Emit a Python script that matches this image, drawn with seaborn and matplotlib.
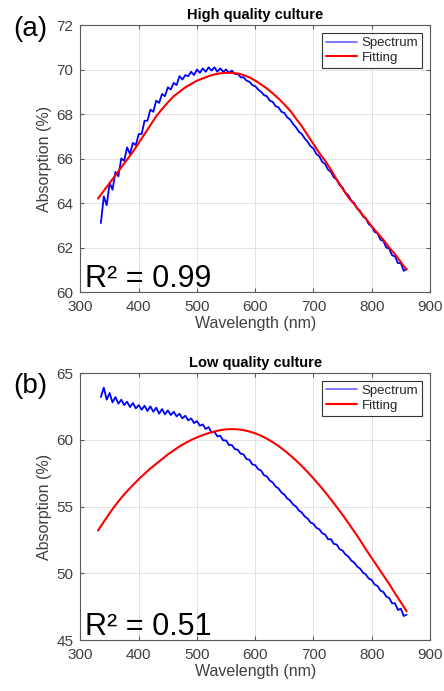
import numpy as np
import pandas as pd
import matplotlib
matplotlib.use("Agg")
import matplotlib.pyplot as plt
import seaborn as sns

# sample grids (nm)
wl_spec = np.arange(335, 861, 5)
wl_fit = np.arange(330, 861, 10)

# (a) high quality culture, absorption in %
high_spec = [
    63.1, 64.3, 63.9, 64.9, 64.6, 65.4, 65.2, 66.0, 65.9, 66.5,
    66.2, 66.7, 66.6, 67.1, 67.1, 67.7, 67.7, 68.2, 68.1, 68.6,
    68.5, 68.9, 68.8, 69.2, 69.1, 69.4, 69.3, 69.7, 69.55, 69.75,
    69.7, 69.9, 69.75, 70.0, 69.85, 70.05, 69.9, 70.1, 69.95, 70.1,
    69.9, 70.05, 69.9, 70.0, 69.85, 69.95, 69.8, 69.8, 69.65, 69.65,
    69.5, 69.45, 69.3, 69.25, 69.1, 69.0, 68.85, 68.8, 68.6, 68.55,
    68.35, 68.3, 68.1, 68.05, 67.85, 67.75, 67.55, 67.4, 67.2, 67.1,
    66.9, 66.75, 66.55, 66.45, 66.2, 66.1, 65.85, 65.75, 65.5, 65.4,
    65.15, 65.05, 64.8, 64.7, 64.45, 64.35, 64.1, 64.0, 63.75, 63.65,
    63.4, 63.3, 63.05, 62.95, 62.7, 62.65, 62.35, 62.3, 62.0, 61.95,
    61.65, 61.6, 61.3, 61.3, 60.95, 61.05,
]
high_fit = [
    64.2, 64.55, 64.9, 65.25, 65.6, 65.95, 66.3, 66.7, 67.1, 67.5,
    67.9, 68.22, 68.52, 68.8, 69.0, 69.2, 69.35, 69.5, 69.6, 69.7,
    69.78, 69.83, 69.85, 69.85, 69.82, 69.75, 69.65, 69.5, 69.33, 69.15,
    68.93, 68.7, 68.43, 68.15, 67.8, 67.45, 67.05, 66.65, 66.25, 65.9,
    65.5, 65.05, 64.65, 64.25, 63.95, 63.6, 63.3, 62.95, 62.65, 62.35,
    62.0, 61.7, 61.35, 61.0,
]

# (b) low quality culture
low_spec = [
    63.2, 63.9, 63.0, 63.5, 62.8, 63.2, 62.7, 63.0, 62.6, 62.85,
    62.45, 62.75, 62.35, 62.6, 62.25, 62.55, 62.15, 62.5, 62.1, 62.4,
    61.95, 62.3, 61.9, 62.2, 61.85, 62.1, 61.75, 61.95, 61.6, 61.8,
    61.45, 61.6, 61.25, 61.4, 61.05, 61.15, 60.8, 60.95, 60.55, 60.6,
    60.25, 60.3, 59.95, 59.95, 59.6, 59.6, 59.3, 59.25, 58.95, 58.9,
    58.55, 58.5, 58.15, 58.1, 57.8, 57.7, 57.35, 57.25, 56.95, 56.8,
    56.5, 56.35, 56.05, 55.9, 55.6, 55.45, 55.15, 55.0, 54.7, 54.55,
    54.25, 54.1, 53.8, 53.7, 53.4, 53.3, 53.0, 52.9, 52.55, 52.55,
    52.2, 52.15, 51.8, 51.7, 51.4, 51.25, 50.95, 50.8, 50.5, 50.35,
    50.05, 49.9, 49.6, 49.5, 49.15, 49.05, 48.7, 48.6, 48.25, 48.15,
    47.75, 47.75, 47.25, 47.35, 46.8, 46.9,
]
low_fit = [
    53.2, 53.85, 54.5, 55.1, 55.65, 56.15, 56.6, 57.05, 57.45, 57.85,
    58.2, 58.55, 58.9, 59.2, 59.5, 59.75, 59.98, 60.18, 60.35, 60.5,
    60.62, 60.72, 60.78, 60.8, 60.78, 60.72, 60.62, 60.48, 60.3, 60.08,
    59.82, 59.53, 59.2, 58.84, 58.45, 58.03, 57.58, 57.1, 56.6, 56.08,
    55.53, 54.96, 54.37, 53.76, 53.13, 52.48, 51.8, 51.14, 50.5, 49.85,
    49.2, 48.5, 47.83, 47.15,
]

panels = [
    ("(a)", "High quality culture", high_spec, high_fit, (60, 72), np.arange(60, 73, 2), "R² = 0.99"),
    ("(b)", "Low quality culture", low_spec, low_fit, (45, 65), np.arange(45, 66, 5), "R² = 0.51"),
]

sns.set_theme(style="whitegrid")
plt.rcParams["font.family"] = ["Liberation Sans", "DejaVu Sans"]
plt.rcParams["axes.edgecolor"] = "#5a5a5a"
plt.rcParams["axes.linewidth"] = 0.8
plt.rcParams["grid.color"] = "#e2e2e2"
plt.rcParams["grid.linewidth"] = 0.7

fig = plt.figure(figsize=(4.44, 6.91), dpi=100)
boxes = [[0.1813, 0.5774, 0.787, 0.3864], [0.1813, 0.0738, 0.787, 0.3864]]
tag_y = [1 - 29 / 691, 1 - 386 / 691]

for (tag, title, spec, fit, ylim, yticks, r2), box, ty in zip(panels, boxes, tag_y):
    ax = fig.add_axes(box)
    df_s = pd.DataFrame({"wavelength": wl_spec, "absorption": spec})
    df_f = pd.DataFrame({"wavelength": wl_fit, "absorption": fit})

    sns.lineplot(data=df_s, x="wavelength", y="absorption", color="#0000ff",
                 lw=1.3, label="Spectrum", ax=ax)
    sns.lineplot(data=df_f, x="wavelength", y="absorption", color="#ff0000",
                 lw=1.5, label="Fitting", ax=ax)

    ax.set_xlim(300, 900)
    ax.set_ylim(*ylim)
    ax.set_xticks(np.arange(300, 901, 100))
    ax.set_yticks(yticks)
    ax.tick_params(direction="in", length=3, width=0.8, colors="#5a5a5a",
                   labelcolor="#404040", labelsize=11, top=True, right=True,
                   left=True, bottom=True)
    ax.tick_params(axis="x", pad=6)
    ax.tick_params(axis="y", pad=5)
    ax.set_xlabel("Wavelength (nm)", fontsize=11.5, color="#404040", labelpad=1)
    ax.set_ylabel("Absorption (%)", fontsize=11.5, color="#404040", labelpad=3)
    ax.set_title(title, fontsize=10.5, fontweight="bold", color="black", pad=4)
    for s in ax.spines.values():
        s.set_visible(True)

    leg = ax.legend(loc="upper right", fancybox=False, framealpha=1,
                    edgecolor="#333333", fontsize=9.5, handlelength=2.4,
                    borderaxespad=0.6, borderpad=0.3, labelspacing=0.2,
                    handletextpad=0.3)
    leg.get_frame().set_linewidth(0.8)
    leg.get_lines()[0].set_color("#6f6fff")

    ax.text(0.012, 0.02, r2, transform=ax.transAxes, fontsize=22,
            color="black", ha="left", va="baseline")
    fig.text(13 / 444, ty, tag, fontsize=20, color="black", ha="left", va="center")

fig.savefig("out.png", dpi=100)
